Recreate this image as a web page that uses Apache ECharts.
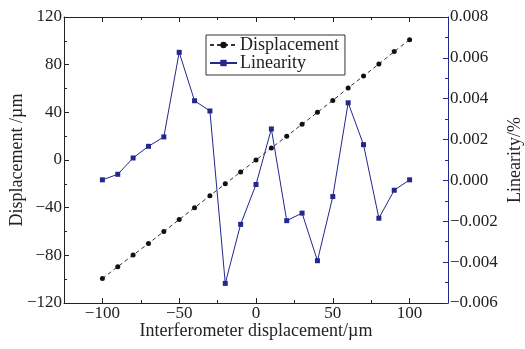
<!DOCTYPE html>
<html><head><meta charset="utf-8">
<script src="https://cdn.jsdelivr.net/npm/echarts@6/dist/echarts.min.js"></script>
<style>html,body{margin:0;padding:0;background:#fff}#c{width:525px;height:349px}</style>
</head><body><div id="c"></div>
<script>
const xValues = [-100,-90,-80,-70,-60,-50,-40,-30,-20,-10,0,10,20,30,40,50,60,70,80,90,100];
const displacement = [-99.5,-89.5,-79.8,-70,-60,-50,-40,-30,-20,-10,0,10,20,30,40,50,60.5,70.5,80.5,91,101];
const linearity = [0.00003,0.0003,0.0011,0.00167,0.00213,0.00627,0.0039,0.0034,-0.00504,-0.00215,-0.0002,0.00252,-0.00197,-0.0016,-0.00393,-0.00079,0.0038,0.00175,-0.00185,-0.00048,0.00003];
const xMajorTicks = [-100,-50,0,50,100];
const xMinorTicks = [-75,-25,25,75];
const seriesNames = ['Displacement','Linearity'];
const xTitle = 'Interferometer displacement/\u00b5m';
const yLeftTitle = 'Displacement /\u00b5m';
const yRightTitle = 'Linearity/%';

const FONT = 'Liberation Serif';
const BLUE = '#23288c';
const TXT = '#222';
const minus = s => String(s).replace('-', '\u2212');

const chart = echarts.init(document.getElementById('c'), null, {renderer:'canvas'});
const baseX = {type:'value', min:-125, max:125, splitLine:{show:false}};
chart.setOption({
  animation:false,
  backgroundColor:'#fff',
  grid:{left:64, right:77, top:17, bottom:46, containLabel:false, outerBoundsMode:'none'},
  legend:{
    orient:'vertical', left:206, top:35, data:seriesNames,
    borderColor:'#333', borderWidth:1, padding:[1,6,3,3],
    itemWidth:27, itemHeight:8, itemGap:0,
    textStyle:{fontFamily:FONT, fontSize:18, color:TXT, lineHeight:18, padding:[0,0,0,-2]}
  },
  xAxis:[
    Object.assign({}, baseX, {position:'bottom', name:xTitle, nameLocation:'middle', nameGap:19,
      nameMoveOverlap:false,
      nameTextStyle:{fontFamily:FONT, fontSize:18, color:TXT},
      axisLine:{onZero:false, lineStyle:{color:'#222', width:1}},
      axisTick:{inside:true, length:5, customValues:xMajorTicks, lineStyle:{color:'#222'}},
      axisLabel:{customValues:xMajorTicks, fontFamily:FONT, fontSize:17, color:TXT, margin:2, formatter:minus}}),
    Object.assign({}, baseX, {position:'bottom',
      axisLine:{show:false, onZero:false},
      axisTick:{inside:true, length:3, customValues:xMinorTicks, lineStyle:{color:'#222'}},
      axisLabel:{show:false}}),
    Object.assign({}, baseX, {position:'top',
      axisLine:{onZero:false, lineStyle:{color:'#222', width:1}},
      axisTick:{inside:true, length:5, customValues:xMajorTicks, lineStyle:{color:'#222'}},
      axisLabel:{show:false}}),
    Object.assign({}, baseX, {position:'top',
      axisLine:{show:false, onZero:false},
      axisTick:{inside:true, length:3, customValues:xMinorTicks, lineStyle:{color:'#222'}},
      axisLabel:{show:false}})
  ],
  yAxis:[
    {type:'value', position:'left', min:-120, max:120, interval:40,
     name:yLeftTitle, nameLocation:'middle', nameGap:38, nameMoveOverlap:false,
     nameTextStyle:{fontFamily:FONT, fontSize:18, color:TXT},
     splitLine:{show:false},
     axisLine:{show:true, onZero:false, lineStyle:{color:'#222'}},
     axisTick:{inside:true, length:5, lineStyle:{color:'#222'}},
     minorTick:{show:true, splitNumber:2, length:3, lineStyle:{color:'#222'}},
     axisLabel:{fontFamily:FONT, fontSize:17, color:TXT, margin:2, formatter:minus}},
    {type:'value', position:'right', min:-0.006, max:0.008, interval:0.002,
     name:yRightTitle, nameLocation:'middle', nameGap:58, nameRotate:90, nameMoveOverlap:false,
     nameTextStyle:{fontFamily:FONT, fontSize:18, color:TXT},
     splitLine:{show:false},
     axisLine:{show:true, onZero:false, lineStyle:{color:BLUE}},
     axisTick:{inside:true, length:5, lineStyle:{color:BLUE}},
     minorTick:{show:true, splitNumber:2, length:3, lineStyle:{color:BLUE}},
     axisLabel:{fontFamily:FONT, fontSize:17, color:TXT, margin:2,
       formatter:v => minus(v.toFixed(3))}}
  ],
  series:[
    {name:seriesNames[0], type:'line', xAxisIndex:0, yAxisIndex:0,
     data:xValues.map((x,i)=>[x, displacement[i]]),
     symbol:'circle', symbolSize:5, color:'#111',
     lineStyle:{color:'#333', width:1, type:[4,3]}, itemStyle:{color:'#111'}},
    {name:seriesNames[1], type:'line', xAxisIndex:0, yAxisIndex:1,
     data:xValues.map((x,i)=>[x, linearity[i]]),
     symbol:'rect', symbolSize:5, color:BLUE,
     lineStyle:{color:BLUE, width:1}, itemStyle:{color:BLUE}}
  ]
});
</script></body></html>
